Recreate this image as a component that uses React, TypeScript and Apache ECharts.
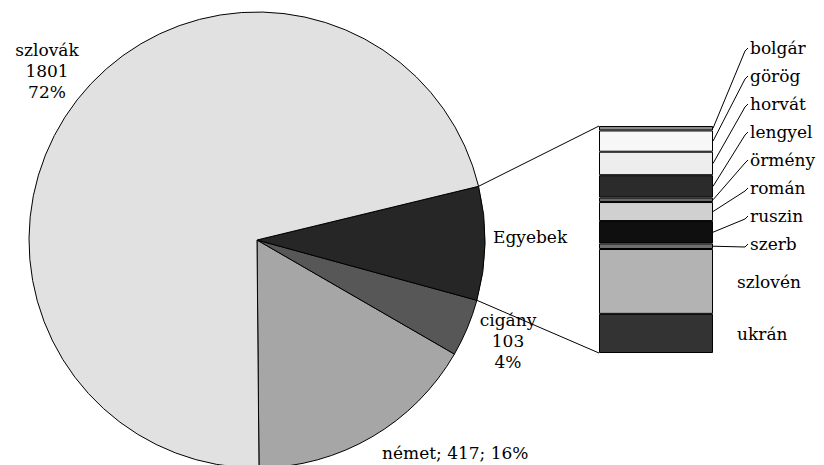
import React, { useEffect, useRef } from 'react';
import * as echarts from 'echarts';

// Main pie data (counter-clockwise from 6 o'clock)
const pieNames = ['német', 'cigány', 'Egyebek', 'szlovák'];
const pieValues = [417, 103, 203, 1801];
const piePercents = ['16%', '4%', '8%', '72%'];
const pieLabelKinds = ['inline', 'stack', 'name', 'stack'];

// Breakdown of "Egyebek" (top to bottom)
const otherNames = ['bolgár', 'görög', 'horvát', 'lengyel', 'örmény', 'román', 'ruszin', 'szerb', 'szlovén', 'ukrán'];
const otherValues = [4, 19, 21, 20, 4, 17, 20, 5, 58, 35];

// styles
const pieColors = ['#a6a6a6', '#575757', '#262626', '#e1e1e1'];
const otherColors = ['#8c8c8c', '#f7f7f7', '#ededed', '#2b2b2b', '#6a6a6a', '#d0d0d0', '#0f0f0f', '#6e6e6e', '#b3b3b3', '#333333'];
const pieLabelLayout = [
  { x: 382, y: 453, align: 'left' },
  { x: 508, y: 341, align: 'center' },
  { x: 493, y: 237, align: 'left' },
  { x: 47, y: 71, align: 'center' },
];

const FONT = 'DejaVu Serif';
const CX = 257, CY = 240, R = 228;
const START = -89.5;
const BAR = { left: 599, top: 126, width: 114, height: 227 };

export default function App() {
  const ref = useRef<HTMLDivElement>(null);
  useEffect(() => {
    const chart = echarts.init(ref.current!, null, { renderer: 'svg' });
    const otherTotal = otherValues.reduce((a, b) => a + b, 0);
    const pieTotal = pieValues.reduce((a, b) => a + b, 0);

    const barSeries = otherNames.map((name, i) => {
      const nLead = 8;
      const ly = i < nLead ? BAR.top - 78 + i * 28 : 0;
      let cum = 0;
      for (let k = 0; k < i; k++) cum += otherValues[k];
      const midFrac = (cum + otherValues[i] / 2) / otherTotal;
      const y = i < nLead ? ly : BAR.top + midFrac * BAR.height + 1;
      const x = i < nLead ? BAR.left + BAR.width + 37 : BAR.left + BAR.width + 24;
      return {
        type: 'bar',
        name,
        stack: 'egyebek',
        barWidth: '100%',
        xAxisIndex: 0,
        yAxisIndex: 0,
        data: [otherValues[i]],
        itemStyle: { color: otherColors[i], borderColor: '#000', borderWidth: 1 },
        label: {
          show: true,
          position: 'right',
          formatter: name,
          fontFamily: FONT,
          fontSize: 17,
          color: '#000',
        },
        labelLayout: { x, y, align: 'left', verticalAlign: 'middle' },
        labelLine: { show: false },
        emphasis: { disabled: true },
        silent: true,
      };
    });

    const option: any = {
      animation: false,
      backgroundColor: '#fff',
      textStyle: { fontFamily: FONT },
      grid: [{ left: BAR.left, top: BAR.top, width: BAR.width, height: BAR.height, containLabel: false }],
      xAxis: [{ type: 'category', data: ['Egyebek'], show: false, gridIndex: 0 }],
      yAxis: [{ type: 'value', min: 0, max: otherTotal, inverse: true, show: false, gridIndex: 0 }],
      series: [
        {
          type: 'pie',
          center: [CX, CY],
          radius: R,
          startAngle: START,
          clockwise: false,
          avoidLabelOverlap: false,
          silent: true,
          emphasis: { disabled: true },
          data: pieNames.map((n, i) => ({
            name: n,
            value: pieValues[i],
            itemStyle: { color: pieColors[i], borderColor: '#000', borderWidth: 1 },
          })),
          label: {
            show: true,
            position: 'outside',
            fontFamily: FONT,
            fontSize: 17,
            lineHeight: 21,
            color: '#000',
            formatter: (p: any) => {
              const i = p.dataIndex;
              const kind = pieLabelKinds[i];
              if (kind === 'inline') return `${p.name}; ${p.value}; ${piePercents[i]}`;
              if (kind === 'stack') return `${p.name}\n${p.value}\n${piePercents[i]}`;
              return p.name;
            },
          },
          labelLine: { show: false },
          labelLayout: (params: any) => {
            const L = pieLabelLayout[params.dataIndex];
            return { x: L.x, y: L.y, align: L.align, verticalAlign: 'middle' };
          },
        },
        ...barSeries,
      ],
    };
    chart.setOption(option);

    // connector lines from the "Egyebek" slice to the bar
    const before = pieValues[0] + pieValues[1];
    const a1 = ((START + (before / pieTotal) * 360) * Math.PI) / 180;
    const a2 = ((START + ((before + pieValues[2]) / pieTotal) * 360) * Math.PI) / 180;
    const p1 = [CX + R * Math.cos(a1), CY - R * Math.sin(a1)];
    const p2 = [CX + R * Math.cos(a2), CY - R * Math.sin(a2)];
    const yTop = chart.convertToPixel({ yAxisIndex: 0 } as any, 0) as any as number;
    const yBot = chart.convertToPixel({ yAxisIndex: 0 } as any, otherTotal) as any as number;

    const elements: any[] = [
      { type: 'line', shape: { x1: p2[0], y1: p2[1], x2: BAR.left, y2: yTop }, style: { stroke: '#000', lineWidth: 1 }, z: 10 },
      { type: 'line', shape: { x1: p1[0], y1: p1[1], x2: BAR.left, y2: yBot }, style: { stroke: '#000', lineWidth: 1 }, z: 10 },
    ];
    let cum = 0;
    const right = BAR.left + BAR.width;
    otherValues.forEach((v, i) => {
      const mid = chart.convertToPixel({ yAxisIndex: 0 } as any, cum + v / 2) as any as number;
      cum += v;
      if (i >= 8) return;
      const ly = BAR.top - 78 + i * 28;
      elements.push({
        type: 'polyline',
        shape: { points: [[right, mid], [right + 32, ly + 3], [right + 35, ly]] },
        style: { stroke: '#000', lineWidth: 1, fill: null },
        z: 10,
      });
    });
    chart.setOption({ graphic: elements });

    return () => chart.dispose();
  }, []);
  return <div ref={ref} style={{ position: 'fixed', left: 0, top: 0, width: 824, height: 465 }} />;
}
